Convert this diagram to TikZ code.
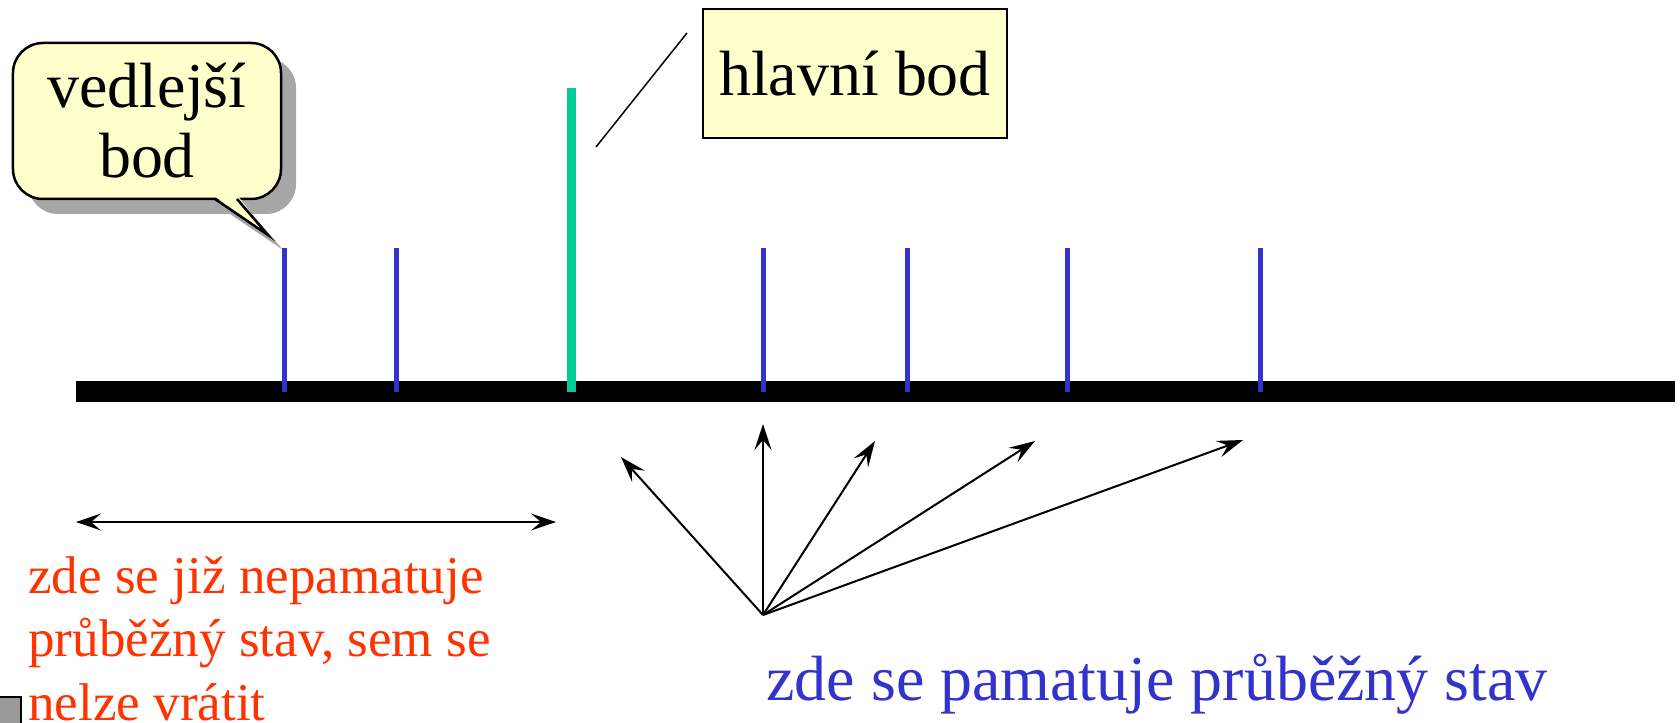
\documentclass[tikz,border=0pt]{standalone}
\usepackage{fontspec}
\setmainfont{Liberation Serif}
\usetikzlibrary{arrows.meta, shadows}
\definecolor{stateBlue}{HTML}{3333CC}
\definecolor{stateGreen}{HTML}{00CC99}
\definecolor{stateRed}{HTML}{FF3300}
\definecolor{noteFill}{HTML}{FFFFCC}

\begin{document}
\begin{tikzpicture}[
  x=0.2mm, y=-0.2mm,
  big/.style={font=\fontsize{36.4pt}{39.8pt}\selectfont},
  bubble/.style={big, draw=black, line width=0.5mm, fill=noteFill, rounded corners=6mm,
                 minimum width=53.6mm, minimum height=31.2mm, align=center, inner sep=0pt,
                 drop shadow={shadow xshift=3mm, shadow yshift=-3mm, fill=black!35, opacity=1}},
  tag/.style={big, draw=black, line width=0.4mm, fill=noteFill, minimum width=60.8mm,
              minimum height=25.8mm, inner sep=0pt},
  bar/.style={line width=4.2mm},
  minor/.style={draw=stateBlue, line width=1mm},
  major/.style={draw=stateGreen, line width=1.8mm},
  a/.style={-{Stealth[length=5.2mm, width=3.4mm, inset=2mm]}, line width=0.4mm},
  span/.style={{Stealth[length=5mm, width=3.4mm, inset=2mm]}-{Stealth[length=5mm, width=3.4mm, inset=2mm]},
               line width=0.4mm}
]
\useasboundingbox (0,0) rectangle (1680,723);

\fill[black!35] (230,214) -- (283,250) -- (252,214) -- cycle;
\node[bubble] (vedlejsi) at (147,121) {vedlejší\\bod};
\fill[noteFill] (214,196) -- (268,235) -- (238,196) -- cycle;
\draw[line width=0.5mm] (215,199) -- (268,235) -- (237,199);

\node[tag] (hlavni) at (855,73.5) {hlavní bod};
\coordinate (leadA) at (687,33);
\coordinate (leadB) at (596,147);
\draw[line width=0.3mm] (leadA) -- (leadB);

\draw[bar] (76,391.5) -- (1675,391.5);
\draw[major] (571,88) -- (571,392);
\foreach \x in {284,396,763,907,1067,1260}
  \draw[minor] (\x,248) -- (\x,392);

\coordinate (fan) at (763,615);
\foreach \px/\py [count=\i] in {621/457, 763/424, 875/441, 1035/441, 1243/440} {
  \coordinate (tip\i) at (\px,\py);
  \draw[a] (fan) -- (tip\i);
}

\coordinate (spanL) at (76,522);
\coordinate (spanR) at (556,522);
\draw[span] (spanL) -- (spanR);

\node[anchor=base west, align=left, inner sep=0pt, text=stateRed,
      font=\fontsize{30.2pt}{36.1pt}\selectfont] (lost) at (28,720)
  {zde se již nepamatuje\\průběžný stav, sem se\\nelze vrátit};
\node[big, anchor=base west, inner sep=0pt, text=stateBlue] (kept) at (766,700)
  {zde se pamatuje průběžný stav};

\draw[fill=black!40, line width=0.3mm] (-5,697) rectangle (21,740);
\end{tikzpicture}
\end{document}
